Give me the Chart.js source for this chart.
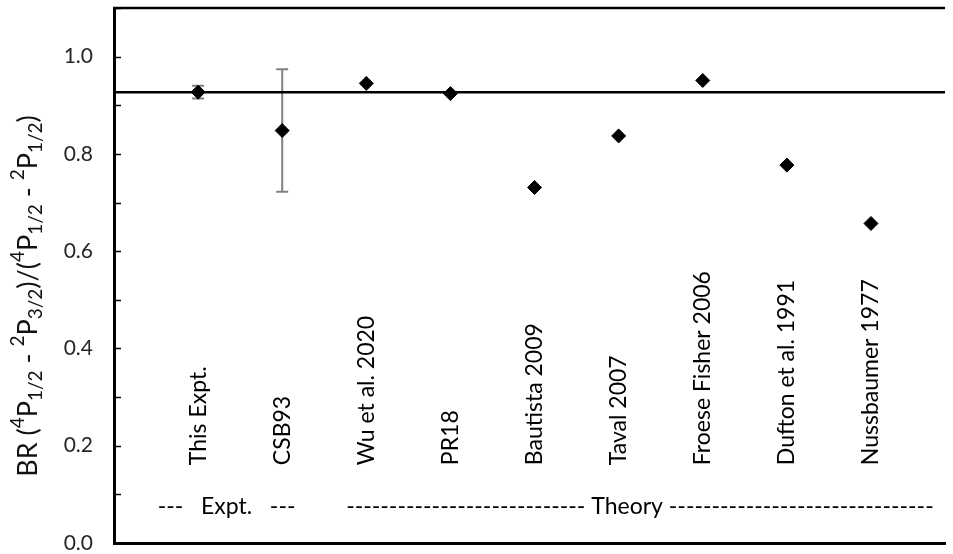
<!DOCTYPE html>
<html>
<head>
<meta charset="utf-8">
<script src="https://cdn.jsdelivr.net/npm/chart.js@4"></script>
<style>
  html, body { margin: 0; padding: 0; background: #fff; overflow: hidden; }
  #wrap { width: 953px; height: 554px; }
</style>
</head>
<body>
<div id="wrap"><canvas id="brChart" width="953" height="554"></canvas></div>
<script>
// categories along the x axis (positions 1..9)
const categories = ['This Expt.', 'CSB93', 'Wu et al. 2020', 'PR18', 'Bautista 2009',
  'Taval 2007', 'Froese Fisher 2006', 'Dufton et al. 1991', 'Nussbaumer 1977'];
// branching ratio values
const brValues = [0.927, 0.848, 0.945, 0.924, 0.731, 0.837, 0.951, 0.777, 0.657];
// error bars (null = none)
const brErrors = [0.013, 0.126, null, null, null, null, null, null, null];
// horizontal reference line (this experiment)
const refValue = 0.927;
// y axis range, tick step and labelled ticks
const yMin = 0, yMax = 1.1, yStep = 0.1;
const yTickLabels = ['0.0', '0.2', '0.4', '0.6', '0.8', '1.0'];
const xMin = 0, xMax = 9.88;
// group labels under the categories
const groupLabels = ['---   Expt.   ---', '---------------------------- Theory -------------------------------'];
const groupStarts = [0.52, 2.76];

const FONT = 'Lato, "Open Sans", sans-serif';

// error bars drawn under the markers
const errorBars = {
  id: 'errorBars',
  beforeDatasetsDraw(chart) {
    const { ctx, scales: { x, y } } = chart;
    ctx.save();
    ctx.strokeStyle = '#808080';
    ctx.lineWidth = 2;
    brErrors.forEach((e, i) => {
      if (e == null) return;
      const px = x.getPixelForValue(i + 1);
      const top = y.getPixelForValue(brValues[i] + e);
      const bot = y.getPixelForValue(brValues[i] - e);
      ctx.beginPath();
      ctx.moveTo(px, top); ctx.lineTo(px, bot);
      ctx.moveTo(px - 6, top); ctx.lineTo(px + 6, top);
      ctx.moveTo(px - 6, bot); ctx.lineTo(px + 6, bot);
      ctx.stroke();
    });
    ctx.restore();
  }
};

// inward tick marks, tick labels, top frame line, category texts, axis title
const decorations = {
  id: 'decorations',
  afterDraw(chart) {
    const { ctx, chartArea, scales: { x, y } } = chart;
    ctx.save();
    // top frame
    ctx.strokeStyle = '#000';
    ctx.lineWidth = 2.5;
    ctx.beginPath();
    ctx.moveTo(chartArea.left - 1, chartArea.top);
    ctx.lineTo(chartArea.right, chartArea.top);
    ctx.stroke();
    // inward ticks
    ctx.lineWidth = 1.5;
    y.ticks.forEach(t => {
      const py = Math.round(y.getPixelForValue(t.value)) + 0.5;
      ctx.beginPath();
      ctx.moveTo(chartArea.left, py);
      ctx.lineTo(chartArea.left + 7, py);
      ctx.stroke();
    });
    // tick labels
    ctx.fillStyle = '#262626';
    ctx.font = '21px ' + FONT;
    ctx.textAlign = 'right';
    ctx.textBaseline = 'middle';
    yTickLabels.forEach(l => {
      ctx.fillText(l, chartArea.left - 21, y.getPixelForValue(parseFloat(l)));
    });

    // category labels, rotated
    ctx.fillStyle = '#000';
    ctx.font = '23px ' + FONT;
    ctx.textAlign = 'left';
    const baseY = y.getPixelForValue(0.16);
    categories.forEach((c, i) => {
      ctx.save();
      ctx.translate(x.getPixelForValue(i + 1), baseY);
      ctx.rotate(-Math.PI / 2);
      ctx.fillText(c, 0, 0);
      ctx.restore();
    });

    // group labels
    ctx.font = '23px ' + FONT;
    const gy = y.getPixelForValue(0.074);
    groupLabels.forEach((g, i) => {
      ctx.fillText(g, x.getPixelForValue(groupStarts[i]), gy);
    });

    // y axis title with super/subscripts
    const parts = [
      ['BR (', 'n'], ['4', 'sup'], ['P', 'n'], ['1/2', 'sub'], [' - ', 'n'], ['2', 'sup'], ['P', 'n'], ['3/2', 'sub'],
      [')/(', 'n'], ['4', 'sup'], ['P', 'n'], ['1/2', 'sub'], [' - ', 'n'], ['2', 'sup'], ['P', 'n'], ['1/2', 'sub'], [')', 'n']
    ];
    const big = '27px ' + FONT, small = '19px ' + FONT;
    let total = 0;
    parts.forEach(p => { ctx.font = p[1] === 'n' ? big : small; total += ctx.measureText(p[0]).width; });
    ctx.save();
    ctx.translate(28, 296);
    ctx.rotate(-Math.PI / 2);
    ctx.textBaseline = 'middle';
    ctx.fillStyle = '#111';
    let cx = -total / 2;
    parts.forEach(p => {
      ctx.font = p[1] === 'n' ? big : small;
      const dy = p[1] === 'sup' ? -10 : p[1] === 'sub' ? 8 : 0;
      ctx.fillText(p[0], cx, dy);
      cx += ctx.measureText(p[0]).width;
    });
    ctx.restore();
    ctx.restore();
  }
};

const ctx = document.getElementById('brChart').getContext('2d');
const chart = new Chart(ctx, {
  type: 'scatter',
  data: {
    datasets: [
      {
        label: 'BR',
        data: brValues.map((v, i) => ({ x: i + 1, y: v })),
        pointStyle: 'rectRot',
        pointRadius: 7,
        pointBorderWidth: 1,
        backgroundColor: '#000',
        borderColor: '#000',
        showLine: false,
        order: 2
      },
      {
        type: 'line',
        label: 'ref',
        data: [{ x: xMin, y: refValue }, { x: xMax, y: refValue }],
        borderColor: '#000',
        borderWidth: 2.5,
        pointRadius: 0,
        order: 1
      }
    ]
  },
  options: {
    responsive: false,
    animation: false,
    events: [],
    layout: { padding: { left: 0, right: 0, top: 6, bottom: 11 } },
    plugins: { legend: { display: false }, tooltip: { enabled: false } },
    scales: {
      x: {
        type: 'linear',
        min: xMin,
        max: xMax,
        ticks: { display: false },
        grid: { display: false, drawTicks: false },
        border: { display: true, color: '#000', width: 3 },
        afterFit(s) { s.height = 0; s.paddingLeft = 0; s.paddingRight = 0; }
      },
      y: {
        min: yMin,
        max: yMax,
        ticks: { stepSize: yStep, display: false },
        grid: { display: false, drawTicks: false },
        border: { display: true, color: '#000', width: 3 },
        afterFit(s) { s.width = 114; s.paddingTop = 0; s.paddingBottom = 0; }
      }
    }
  },
  plugins: [errorBars, decorations]
});
</script>
</body>
</html>
